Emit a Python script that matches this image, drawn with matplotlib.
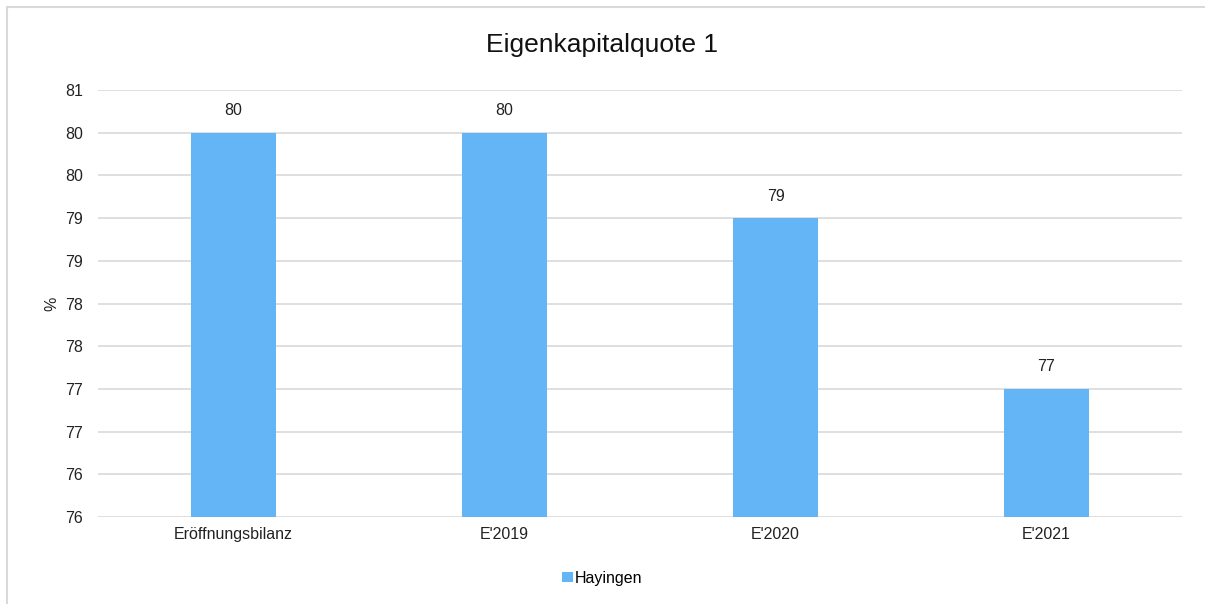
import math
import matplotlib
matplotlib.use("Agg")
import matplotlib.pyplot as plt
from matplotlib.patches import Rectangle
from matplotlib.ticker import FuncFormatter, MultipleLocator

categories = ["Eröffnungsbilanz", "E'2019", "E'2020", "E'2021"]
values = [80.0, 80.0, 79.0, 77.0]
series_name = "Hayingen"

plt.rcParams['font.family'] = ['Liberation Sans', 'DejaVu Sans']


def excel_round(v, pos=None):
    return str(int(math.floor(v + 0.5 + 1e-9)))


def main():
    fig = plt.figure(figsize=(12.05, 6.04), dpi=100)
    ax = fig.add_axes([98 / 1205, 1 - 517 / 604, (1182 - 98) / 1205, (517 - 90) / 604])

    x = range(len(categories))
    bars = ax.bar(x, values, width=0.31, color='#64B5F6', label=series_name, zorder=3)
    for b, v in zip(bars, values):
        ax.text(b.get_x() + b.get_width() / 2, v + 0.17, excel_round(v),
                ha='center', va='bottom', fontsize=11.5, color='#222222')

    ax.set_xlim(-0.5, len(categories) - 0.5)
    ax.set_ylim(75.5, 80.5)
    ax.yaxis.set_major_locator(MultipleLocator(0.5))
    ax.yaxis.set_major_formatter(FuncFormatter(excel_round))
    ax.set_xticks(list(x))
    ax.set_xticklabels(categories)
    ax.tick_params(axis='both', length=0, labelsize=11.5, colors='#222222')
    ax.tick_params(axis='y', pad=11)
    ax.tick_params(axis='x', pad=7)
    ax.grid(axis='y', color='#d9d9d9', linewidth=1.2, zorder=0)
    for s in ax.spines.values():
        s.set_visible(False)
    ax.set_ylabel('%', fontsize=11.5, color='#222222', labelpad=4)

    fig.text(0.5, 1 - 45 / 604, 'Eigenkapitalquote 1', ha='center', va='center',
             fontsize=19, color='#111111')

    fig.legend(loc='center', bbox_to_anchor=(0.5, 1 - 578 / 604), frameon=False,
               fontsize=11.5, handlelength=0.65, handleheight=0.65, handletextpad=0.15)

    fig.patches.append(Rectangle((7 / 1205, -0.01), 1.02, 1 - 7 / 604 + 0.01,
                                 transform=fig.transFigure, fill=False,
                                 edgecolor='#d9d9d9', linewidth=1.5))

    fig.savefig('out.png', dpi=100)


if __name__ == "__main__":
    main()
